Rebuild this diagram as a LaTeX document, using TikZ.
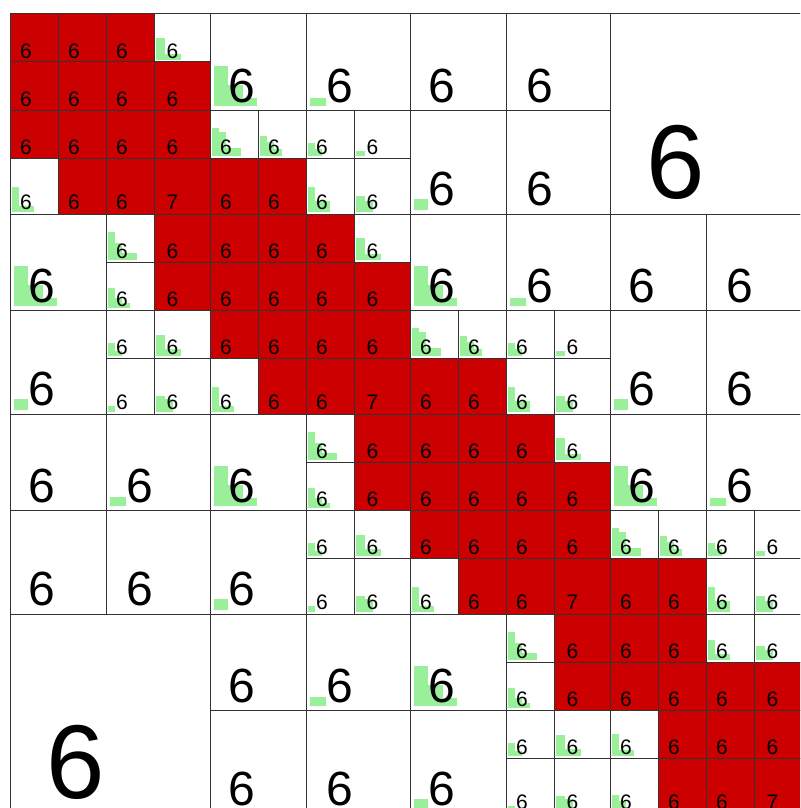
\documentclass[tikz,border=0pt]{standalone}
\usepackage{fontspec}
\setmainfont{Liberation Sans}
\definecolor{densered}{HTML}{CC0000}
\definecolor{lowgreen}{HTML}{9AF09A}
\tikzset{
  gridline/.style={draw=black!80, line width=1pt},
  rank/.style={anchor=base, inner sep=0pt, text=black},
  svbar/.style={fill=lowgreen},
}
% singular value bars in the lower left corner of a block
\newcommand{\svbars}[5]{%
  \foreach \hh [count=\bk from 0] in {#5}{
    \fill[svbar] ({#1+0.04*#3+0.15*#3*\bk},{#2+0.96*#4}) rectangle ++({0.15*#3},{-\hh*#4});
  }}
% one block: x y w h fill fontsize label bars
\newcommand{\hcell}[8]{%
  \fill[#5] (#1,#2) rectangle ++(#3,#4);
  \if\relax\detokenize{#8}\relax\else\svbars{#1}{#2}{#3}{#4}{#8}\fi
  \node[rank, font=\fontsize{#6}{#6}\selectfont, name=n-#1-#2] at ({#1+0.33*#3},{#2+0.92*#4}) {#7};
  \draw[gridline] (#1,#2) rectangle ++(#3,#4);
}
% fine cell inside a 200 block: bx by col row fill label bars
\newcommand{\fine}[7]{%
  \pgfmathtruncatemacro\fx{#1+48*#3}\pgfmathtruncatemacro\fw{48+8*(#3==3)}%
  \pgfmathtruncatemacro\fy{#2+48*#4}\pgfmathtruncatemacro\fh{48+8*(#4==3)}%
  \hcell{\fx}{\fy}{\fw}{\fh}{#6}{21}{#5}{#7}}
% half block (2x2 cells): bx by col row bars
\newcommand{\half}[5]{%
  \pgfmathtruncatemacro\fx{#1+96*#3}\pgfmathtruncatemacro\fw{96+8*#3}%
  \pgfmathtruncatemacro\fy{#2+96*#4}\pgfmathtruncatemacro\fh{96+8*#4}%
  \hcell{\fx}{\fy}{\fw}{\fh}{white}{48}{6}{#5}}
% block types
\newcommand{\diagblock}[2]{%
  \foreach \ci/\ri in {0/0,1/0,2/0,0/1,1/1,2/1,3/1,0/2,1/2,2/2,3/2,1/3,2/3}
    {\fine{#1}{#2}{\ci}{\ri}{6}{densered}{}}
  \fine{#1}{#2}{3}{3}{7}{densered}{}
  \fine{#1}{#2}{3}{0}{6}{white}{0.45,0.13,0.13}
  \fine{#1}{#2}{0}{3}{6}{white}{0.45,0.1,0.1}}
\newcommand{\upperone}[2]{%
  \half{#1}{#2}{0}{0}{0.42,0.22,0.09}
  \half{#1}{#2}{1}{0}{0.09}
  \fine{#1}{#2}{0}{2}{6}{white}{0.58,0.5,0.17,0.17}
  \fine{#1}{#2}{1}{2}{6}{white}{0.42,0.3,0.15}
  \fine{#1}{#2}{2}{2}{6}{white}{0.27,0.15}
  \fine{#1}{#2}{3}{2}{6}{white}{0.1}
  \fine{#1}{#2}{0}{3}{6}{densered}{}
  \fine{#1}{#2}{1}{3}{6}{densered}{}
  \fine{#1}{#2}{2}{3}{6}{white}{0.45,0.2,0.2}
  \fine{#1}{#2}{3}{3}{6}{white}{0.29,0.2}}
\newcommand{\lowerone}[2]{%
  \half{#1}{#2}{0}{0}{0.42,0.22,0.09}
  \half{#1}{#2}{0}{1}{0.1}
  \fine{#1}{#2}{2}{0}{6}{white}{0.58,0.35,0.15,0.15}
  \fine{#1}{#2}{3}{0}{6}{densered}{}
  \fine{#1}{#2}{2}{1}{6}{white}{0.42,0.2,0.1}
  \fine{#1}{#2}{3}{1}{6}{densered}{}
  \fine{#1}{#2}{2}{2}{6}{white}{0.27,0.1}
  \fine{#1}{#2}{3}{2}{6}{white}{0.44,0.15,0.15}
  \fine{#1}{#2}{2}{3}{6}{white}{0.1}
  \fine{#1}{#2}{3}{3}{6}{white}{0.29,0.22}}
\newcommand{\uppertwo}[2]{%
  \half{#1}{#2}{0}{0}{}\half{#1}{#2}{1}{0}{}
  \half{#1}{#2}{0}{1}{0.1}\half{#1}{#2}{1}{1}{}}
\newcommand{\lowertwo}[2]{%
  \half{#1}{#2}{0}{0}{}\half{#1}{#2}{1}{0}{0.1}
  \half{#1}{#2}{0}{1}{}\half{#1}{#2}{1}{1}{}}
\newcommand{\farblock}[2]{\hcell{#1}{#2}{200}{200}{white}{105}{6}{}}
\newcommand{\cornerblock}[2]{%
  \foreach \ci/\ri in {0/0,1/0,0/1,1/1,2/1,3/1,1/2,2/2,3/2,1/3,2/3}
    {\fine{#1}{#2}{\ci}{\ri}{6}{densered}{}}
  \fine{#1}{#2}{3}{3}{7}{densered}{}
  \fine{#1}{#2}{2}{0}{6}{white}{0.42,0.13,0.13}
  \fine{#1}{#2}{3}{0}{6}{white}{0.3,0.2}
  \fine{#1}{#2}{0}{2}{6}{white}{0.45,0.13,0.13}
  \fine{#1}{#2}{0}{3}{6}{white}{0.3,0.2}}

\begin{document}
\begin{tikzpicture}[x=1pt, y=-1pt]
  \useasboundingbox (0,0) rectangle (800,808);
  \clip (0,0) rectangle (800,808);
  % block row 0
  \diagblock{10}{14}
  \upperone{210}{14}
  \uppertwo{410}{14}
  \farblock{610}{14}
  % block row 1
  \lowerone{10}{214}
  \diagblock{210}{214}
  \upperone{410}{214}
  \uppertwo{610}{214}
  % block row 2
  \lowertwo{10}{414}
  \lowerone{210}{414}
  \diagblock{410}{414}
  \upperone{610}{414}
  % block row 3
  \farblock{10}{614}
  \lowertwo{210}{614}
  \lowerone{410}{614}
  \cornerblock{610}{614}
\end{tikzpicture}
\end{document}
